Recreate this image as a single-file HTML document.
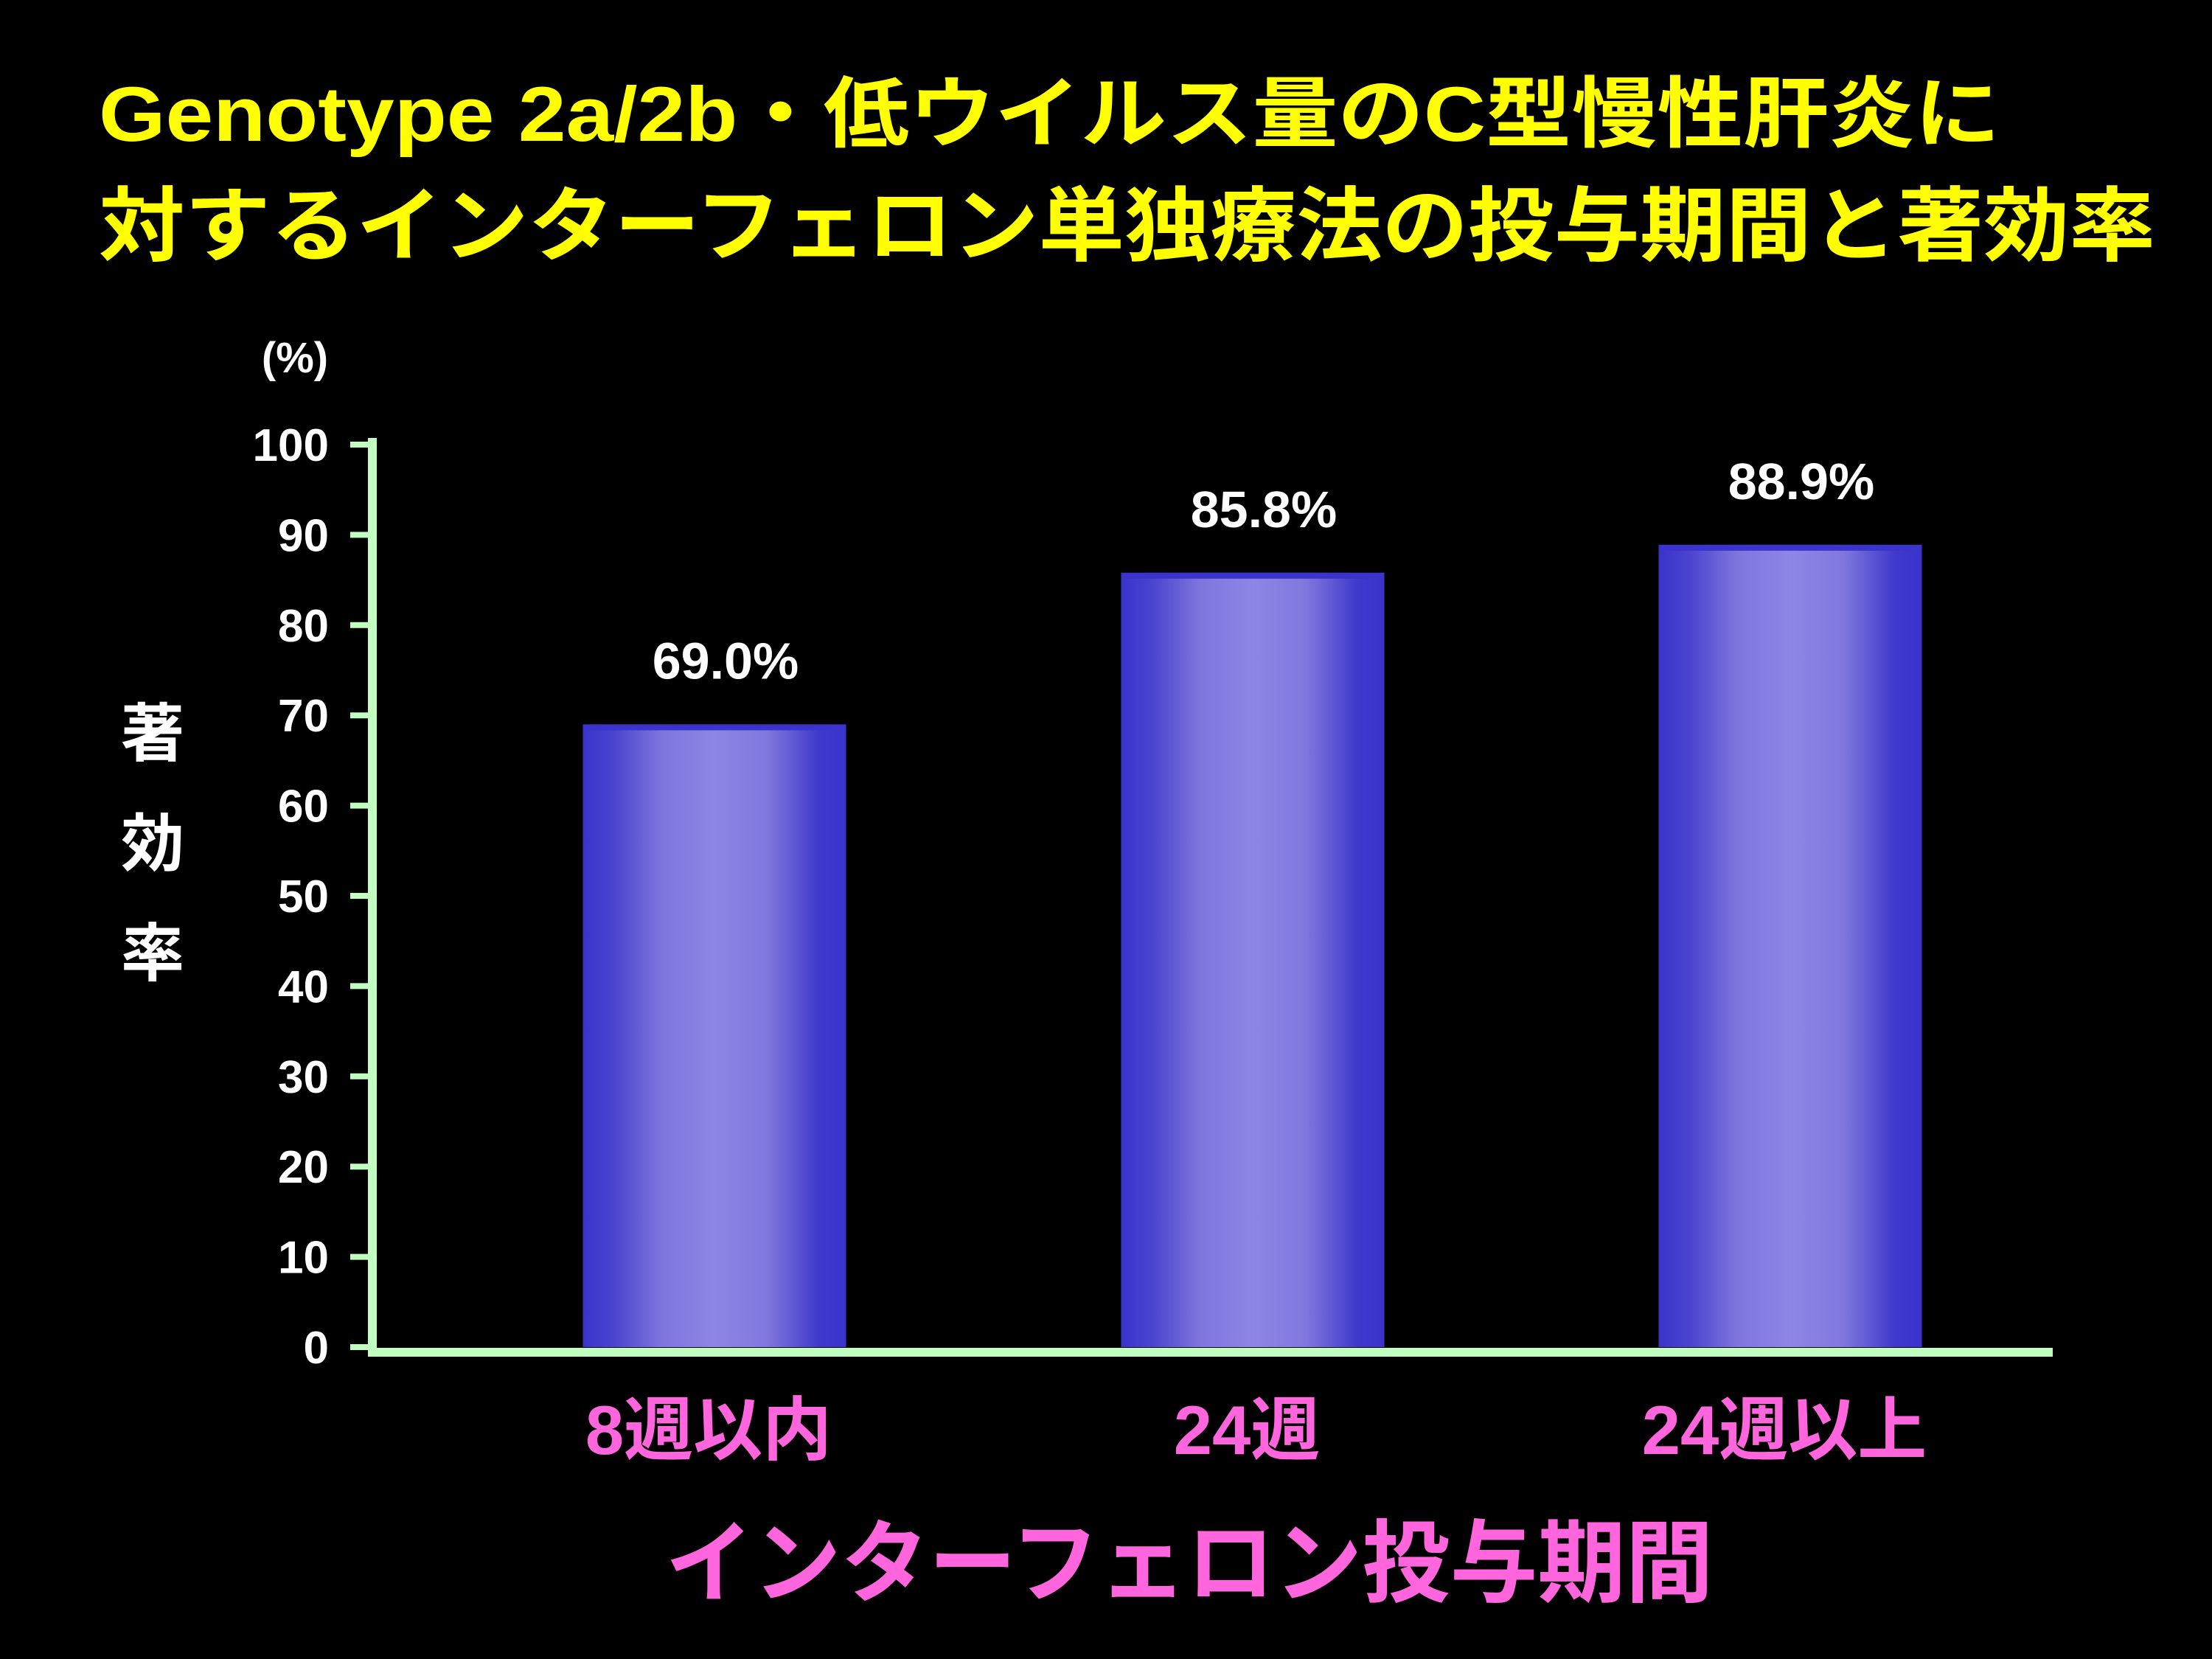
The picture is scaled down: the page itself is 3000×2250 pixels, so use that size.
<!DOCTYPE html>
<html><head><meta charset="utf-8"><style>
html,body{margin:0;padding:0;background:#000;width:3000px;height:2250px;overflow:hidden}
svg{display:block}
text{font-family:"Liberation Sans","Noto Sans CJK JP",sans-serif;font-weight:bold}
</style></head><body>
<svg id="chart" width="3000" height="2250" viewBox="0 0 3000 2250" xmlns="http://www.w3.org/2000/svg">
<defs>
<linearGradient id="barGrad" x1="0" x2="1" y1="0" y2="0">
<stop offset="0" stop-color="#3a33cc"/>
<stop offset="0.12" stop-color="#4a44d0"/>
<stop offset="0.3" stop-color="#7e76dd"/>
<stop offset="0.5" stop-color="#8d86e6"/>
<stop offset="0.7" stop-color="#8078dd"/>
<stop offset="0.9" stop-color="#3e38cc"/>
<stop offset="1" stop-color="#3a33cc"/>
</linearGradient>
</defs>
<text x="134" y="191" font-size="105" fill="#ffff00" textLength="2579" lengthAdjust="spacingAndGlyphs">Genotype 2a/2b・低ウイルス量のC型慢性肝炎に</text>
<text x="134" y="345" font-size="110" fill="#ffff00" textLength="2789" lengthAdjust="spacingAndGlyphs">対するインターフェロン単独療法の投与期間と著効率</text>
<text x="400" y="505" font-size="58" fill="#fff" text-anchor="middle">(%)</text>
<g font-size="86" fill="#fff" text-anchor="middle">
<text x="207" y="1025">著</text><text x="207" y="1174">効</text><text x="207" y="1323">率</text>
</g>
<g id="ticks"></g>
<g id="bars"></g>
<line x1="505" y1="594" x2="505" y2="1838" stroke="#c0ffc0" stroke-width="12"/>
<line x1="499" y1="1834" x2="2784" y2="1834" stroke="#c0ffc0" stroke-width="12"/>
<g id="xlabels"></g>
<text x="1613" y="2163" font-size="122" fill="#ff66dd" text-anchor="middle" textLength="1421" lengthAdjust="spacingAndGlyphs">インターフェロン投与期間</text>
</svg>
<script>
const categories = ["8週以内", "24週", "24週以上"];
const values = [69.0, 85.8, 88.9];
const valueLabels = ["69.0%", "85.8%", "88.9%"];
const yTicks = [0, 10, 20, 30, 40, 50, 60, 70, 80, 90, 100];

const NS = "http://www.w3.org/2000/svg";
const y0 = 1827, y100 = 603;
const yScale = v => y0 - (y0 - y100) * v / 100;
const plotLeft = 505, plotRight = 2784;
const catCenters = [969, 1699, 2428];
const xScale = i => catCenters[i];
const barW = 357;

const tg = document.getElementById('ticks');
yTicks.forEach(t => {
  const y = yScale(t);
  const l = document.createElementNS(NS, 'line');
  
  
  l.setAttribute('x1', 475); l.setAttribute('x2', 505);
  l.setAttribute('y1', y); l.setAttribute('y2', y);
  l.setAttribute('stroke', '#c0ffc0'); l.setAttribute('stroke-width', 8);
  tg.appendChild(l);
  const tx = document.createElementNS(NS, 'text');
  
  
  tx.setAttribute('x', 446); tx.setAttribute('y', y + 22);
  tx.setAttribute('font-size', 62); tx.setAttribute('fill', '#fff');
  tx.setAttribute('text-anchor', 'end');
  tx.textContent = t;
  tg.appendChild(tx);
});

const bg = document.getElementById('bars');
const xg = document.getElementById('xlabels');
values.forEach((v, i) => {
  const cx = xScale(i), top = yScale(v);
  const r = document.createElementNS(NS, 'rect');
  
  
  r.setAttribute('x', cx - barW / 2); r.setAttribute('y', top);
  r.setAttribute('width', barW); r.setAttribute('height', y0 - top);
  r.setAttribute('fill', 'url(#barGrad)');
  bg.appendChild(r);
  const cap = document.createElementNS(NS, 'rect');
  
  
  cap.setAttribute('x', cx - barW / 2); cap.setAttribute('y', top);
  cap.setAttribute('width', barW); cap.setAttribute('height', 8);
  cap.setAttribute('fill', '#3a33cc');
  bg.appendChild(cap);
  const lb = document.createElementNS(NS, 'text');
  
  
  lb.setAttribute('x', cx + 15); lb.setAttribute('y', top - 62);
  lb.setAttribute('font-size', 70); lb.setAttribute('fill', '#fff');
  lb.setAttribute('text-anchor', 'middle');
  lb.textContent = valueLabels[i];
  bg.appendChild(lb);
  const xl = document.createElementNS(NS, 'text');
  
  
  xl.setAttribute('x', cx - 8); xl.setAttribute('y', 1972);
  xl.setAttribute('font-size', 94); xl.setAttribute('fill', '#ff66dd');
  xl.setAttribute('text-anchor', 'middle');
  xl.textContent = categories[i];
  xg.appendChild(xl);
});
</script>
</body></html>
